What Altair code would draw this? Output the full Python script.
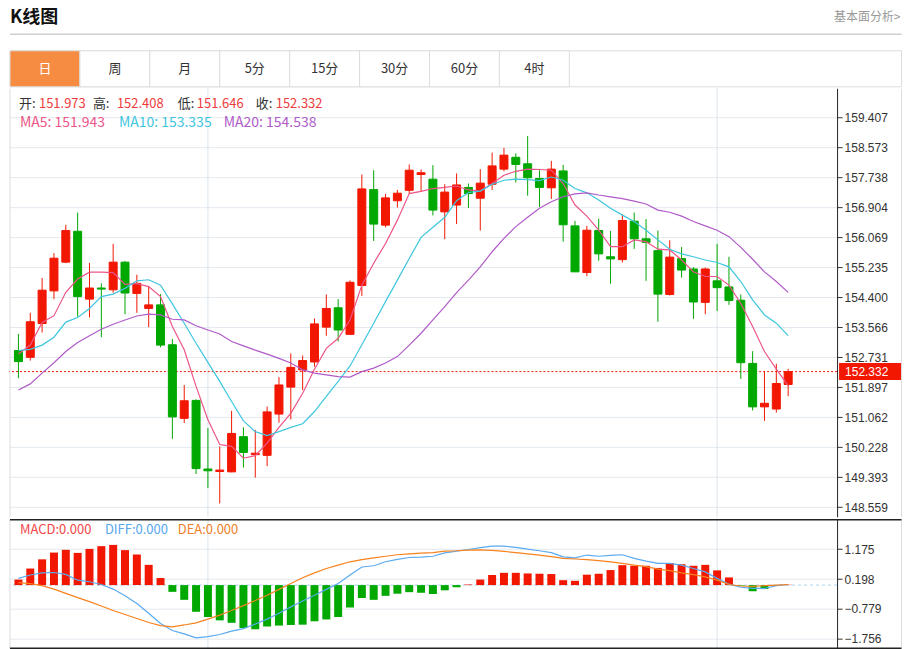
import altair as alt
import pandas as pd

# ---------------- data ----------------
opens = [152.92, 152.73, 153.67, 154.58, 155.38, 156.24, 154.35, 154.66, 154.61, 155.38,
         154.51, 154.09, 154.19, 153.08, 151.03, 151.53, 149.62, 149.55, 149.54, 150.52,
         150.02, 150.00, 151.15, 151.90, 152.38, 152.60, 153.57, 154.11, 153.37, 154.73,
         157.40, 156.41, 157.09, 157.38, 157.82, 157.69, 156.78, 156.97, 157.46, 157.16,
         157.55, 157.97, 158.30, 158.12, 157.71, 157.45, 157.92, 156.39, 155.09, 156.26,
         155.53, 155.45, 156.52, 156.03, 155.70, 154.48, 155.48, 155.19, 154.26, 154.86,
         154.69, 154.32, 152.56, 151.35, 151.29, 151.973]
highs = [153.38, 153.97, 154.94, 155.63, 156.42, 156.76, 155.36, 154.79, 155.89, 155.41,
         155.03, 154.70, 154.49, 153.24, 151.96, 151.56, 150.76, 150.25, 151.24, 150.78,
         150.71, 151.36, 152.18, 152.84, 152.78, 153.81, 154.48, 154.35, 154.87, 157.82,
         157.94, 157.28, 157.39, 158.10, 157.96, 158.08, 157.55, 157.85, 157.57, 157.97,
         158.43, 158.56, 158.41, 158.89, 157.94, 158.20, 158.09, 156.53, 156.39, 156.59,
         156.25, 156.71, 156.76, 156.58, 156.26, 155.99, 155.80, 155.24, 155.23, 155.89,
         155.53, 154.48, 152.90, 152.35, 152.55, 152.408]
lows = [152.15, 152.64, 153.42, 154.35, 155.35, 153.86, 153.84, 153.29, 154.53, 153.93,
        153.97, 153.57, 153.01, 150.46, 150.90, 149.48, 149.09, 148.66, 149.53, 149.66,
        149.38, 149.70, 150.91, 151.00, 151.82, 152.47, 153.33, 153.17, 153.35, 154.44,
        155.97, 156.35, 156.90, 157.29, 157.36, 156.68, 156.02, 156.44, 156.89, 156.26,
        157.39, 157.91, 157.60, 157.23, 156.92, 157.14, 155.95, 155.11, 154.99, 155.42,
        154.78, 155.37, 155.75, 154.86, 153.72, 154.45, 154.95, 153.80, 153.93, 154.02,
        154.19, 152.13, 151.25, 150.96, 151.19, 151.646]
closes = [152.61, 153.72, 154.60, 155.49, 156.26, 154.42, 154.66, 154.63, 155.38, 154.52,
          154.79, 154.19, 153.07, 151.07, 151.52, 149.63, 149.57, 149.59, 150.61, 150.08,
          150.06, 151.21, 151.96, 152.45, 152.64, 153.66, 154.09, 153.49, 154.82, 157.42,
          156.44, 157.17, 157.30, 157.94, 157.87, 156.83, 157.33, 157.53, 157.29, 157.58,
          158.06, 158.36, 158.10, 157.73, 157.46, 157.97, 156.42, 155.11, 156.27, 155.61,
          155.47, 156.54, 156.03, 155.93, 154.49, 155.52, 155.16, 154.27, 155.19, 154.67,
          154.31, 152.58, 151.35, 151.45, 152.00, 152.332]
ma5 = [152.82, 153.07, 153.70, 153.89, 154.54, 154.91, 155.10, 155.10, 155.09, 154.76,
       154.78, 154.70, 154.42, 153.59, 152.94, 151.92, 150.99, 150.30, 150.25, 149.92,
       149.99, 150.34, 150.78, 151.17, 151.73, 152.40, 152.98, 153.26, 153.77, 154.74,
       155.35, 155.90, 156.55, 157.29, 157.35, 157.43, 157.46, 157.50, 157.39, 157.36,
       157.57, 157.80, 157.91, 157.97, 157.96, 157.94, 157.57, 156.97, 156.66, 156.27,
       155.81, 155.81, 156.00, 155.95, 155.74, 155.72, 155.44, 155.11, 154.98, 154.98,
       154.74, 154.23, 153.59, 152.89, 152.40, 151.943]
ma10 = [152.92, 152.95, 153.07, 153.29, 153.71, 153.84, 154.09, 154.42, 154.49, 154.65,
        154.86, 154.89, 154.74, 154.22, 153.68, 153.12, 152.59, 152.06, 151.50, 150.96,
        150.66, 150.55, 150.66, 150.78, 150.88, 151.22, 151.64, 152.06, 152.49, 153.08,
        153.68, 154.28, 154.88, 155.48, 156.07, 156.35, 156.63, 157.09, 157.32, 157.36,
        157.55, 157.66, 157.69, 157.68, 157.65, 157.75, 157.66, 157.43, 157.31, 157.11,
        156.88, 156.69, 156.51, 156.27, 156.00, 155.74, 155.61, 155.53, 155.44, 155.37,
        155.25, 154.84, 154.33, 153.91, 153.68, 153.335]
ma20 = [151.82, 151.99, 152.29, 152.58, 152.89, 153.14, 153.33, 153.51, 153.65, 153.77,
        153.88, 153.93, 153.91, 153.79, 153.77, 153.61, 153.49, 153.38, 153.17, 153.05,
        152.93, 152.82, 152.70, 152.57, 152.38, 152.29, 152.24, 152.19, 152.18, 152.33,
        152.43, 152.57, 152.75, 153.07, 153.40, 153.77, 154.14, 154.53, 154.88, 155.25,
        155.67, 156.04, 156.37, 156.63, 156.88, 157.06, 157.20, 157.28, 157.31, 157.25,
        157.20, 157.15, 157.08, 157.00, 156.83, 156.77, 156.66, 156.51, 156.39, 156.27,
        156.09, 155.79, 155.46, 155.11, 154.84, 154.538]
macd_hist = [0.18, 0.54, 0.84, 1.06, 1.15, 1.05, 1.18, 1.27, 1.31, 1.14,
             1.00, 0.66, 0.23, -0.22, -0.48, -0.87, -1.04, -1.15, -1.23, -1.40,
             -1.44, -1.35, -1.32, -1.30, -1.29, -1.18, -1.12, -1.04, -0.73, -0.42,
             -0.48, -0.35, -0.28, -0.23, -0.25, -0.29, -0.17, -0.07, 0.02, 0.18,
             0.33, 0.40, 0.40, 0.38, 0.37, 0.36, 0.16, 0.14, 0.34, 0.37,
             0.49, 0.65, 0.63, 0.63, 0.56, 0.72, 0.68, 0.63, 0.66, 0.48,
             0.25, -0.02, -0.20, -0.13, -0.03, 0.01]
diff_line = [0.22, 0.33, 0.40, 0.41, 0.35, 0.16, 0.11, 0.02, -0.13, -0.35,
             -0.60, -0.92, -1.25, -1.48, -1.59, -1.72, -1.68, -1.61, -1.50, -1.42,
             -1.27, -1.11, -0.92, -0.71, -0.52, -0.33, -0.14, 0.05, 0.33, 0.59,
             0.63, 0.76, 0.84, 0.90, 0.91, 0.94, 1.05, 1.11, 1.16, 1.22,
             1.27, 1.27, 1.23, 1.17, 1.12, 1.06, 0.92, 0.89, 0.98, 0.94,
             0.97, 0.99, 0.87, 0.78, 0.71, 0.71, 0.65, 0.54, 0.43, 0.22,
             0.03, -0.07, -0.11, -0.11, -0.02, 0.02]
dea_line = [0.08, 0.05, -0.02, -0.13, -0.27, -0.41, -0.54, -0.68, -0.83, -0.96,
            -1.09, -1.22, -1.32, -1.36, -1.30, -1.23, -1.11, -0.98, -0.83, -0.67,
            -0.50, -0.33, -0.14, 0.05, 0.24, 0.40, 0.54, 0.65, 0.76, 0.83,
            0.89, 0.94, 0.99, 1.02, 1.04, 1.06, 1.11, 1.12, 1.14, 1.15,
            1.13, 1.10, 1.06, 1.02, 0.98, 0.93, 0.87, 0.85, 0.83, 0.80,
            0.76, 0.71, 0.65, 0.60, 0.52, 0.47, 0.40, 0.34, 0.27, 0.16,
            0.02, -0.03, -0.04, -0.02, 0.00, 0.02]

price_ticks = [159.407, 158.573, 157.738, 156.904, 156.069, 155.235, 154.400,
               153.566, 152.731, 151.897, 151.062, 150.228, 149.393, 148.559]
macd_ticks = [1.175, 0.198, -0.779, -1.756]
month_start_idx = [16, 59]

tab_labels = ["日", "周", "月", "5分", "15分", "30分", "60分", "4时"]
selected_tab = "日"
header_title = "K线图"
header_link = "基本面分析>"
ohlc_labels = ["开:", "高:", "低:", "收:"]
ohlc_values = ["151.973", "152.408", "151.646", "152.332"]
ma_labels = ["MA5: 151.943", "MA10: 153.335", "MA20: 154.538"]
macd_labels = ["MACD:0.000", "DIFF:0.000", "DEA:0.000"]
last_price = closes[-1]

# ---------------- styling / layout ----------------
RED = "#F21700"
GREEN = "#00A800"
ORANGE_TAB = "#F58C42"
MA_COLORS = ["#EC5588", "#3EC6DE", "#B05BC8"]
MACD_TXT_COLORS = ["#F04848", "#58A8EE", "#F07F2A"]
DIFF_COLOR = "#5AAAF0"
DEA_COLOR = "#F7821E"
GRID = "#E3E9EF"
VGRID = "#DAE5EE"
BORDER = "#DDDDDD"
DARK = "#222222"
FONT_CJK = "Noto Sans CJK SC"
FONT_AX = "Liberation Sans"

W_FULL = 894
RIGHT = 893.5
W_PLOT = 829
H_HEAD = 78
H_MAIN = 429
H_MACD = 130
TAB_TOP = 42.5
TAB_BOTTOM = 78.5

df = pd.DataFrame({
    "i": list(range(len(opens))), "open": opens, "high": highs, "low": lows,
    "close": closes, "ma5": ma5, "ma10": ma10, "ma20": ma20,
    "macd": macd_hist, "diff": diff_line, "dea": dea_line,
})
df["dir"] = ["up" if c >= o else "down" for o, c in zip(opens, closes)]
df["mdir"] = ["up" if m >= 0 else "down" for m in macd_hist]

dir_scale = alt.Scale(domain=["up", "down"], range=[RED, GREEN])
x_sc = alt.Scale(domain=[-0.375, 68.708333], nice=False, zero=False)
price_sc = alt.Scale(domain=[148.289, 160.222], nice=False, zero=False)
macd_sc = alt.Scale(domain=[-2.072, 2.162], nice=False, zero=False)


def X(field="i"):
    return alt.X(f"{field}:Q", scale=x_sc, axis=None)


def make_axis(values):
    return alt.Axis(orient="right", values=values, format=".3f", grid=True,
                    gridColor=GRID, gridWidth=1, ticks=True, tickColor="#333333",
                    tickSize=5, domain=True, domainColor=DARK, domainWidth=1,
                    labelColor="#333333", labelFont=FONT_AX, labelFontSize=12,
                    labelPadding=2, labelOverlap=False, labelFlush=False, title=None)


price_axis = make_axis(price_ticks)
macd_axis = make_axis(macd_ticks)


def YP(field):
    return alt.Y(f"{field}:Q", scale=price_sc, axis=price_axis)


def YM(field):
    return alt.Y(f"{field}:Q", scale=macd_sc, axis=macd_axis)


def text_layer(s, x, y, color, size=13, align="left", weight="normal", font=FONT_CJK):
    return alt.Chart(pd.DataFrame({"t": [s]})).mark_text(
        align=align, baseline="middle", color=color, fontSize=size,
        font=font, fontWeight=weight
    ).encode(text="t:N", x=alt.value(x), y=alt.value(y))


def vline(x, h, color=BORDER, width=1):
    return alt.Chart(pd.DataFrame({"a": [0]})).mark_rule(color=color, strokeWidth=width).encode(
        x=alt.value(x), y=alt.value(0.5), y2=alt.value(h))


def hline(y, x1, x2, color, width=1):
    return alt.Chart(pd.DataFrame({"a": [0]})).mark_rule(color=color, strokeWidth=width).encode(
        x=alt.value(x1), x2=alt.value(x2), y=alt.value(y))


# ---------------- header (title + tabs) ----------------
tab_df = pd.DataFrame({"tab": tab_labels,
                       "sel": ["yes" if t == selected_tab else "no" for t in tab_labels]})
tab_sc = alt.Scale(domain=tab_labels, range=[1, 561], paddingInner=0, paddingOuter=0)

tab_bar = alt.Chart(pd.DataFrame({"a": [0]})).mark_rect(fill="#FFFFFF", stroke=BORDER, strokeWidth=1).encode(
    x=alt.value(1), x2=alt.value(RIGHT), y=alt.value(TAB_TOP), y2=alt.value(TAB_BOTTOM))
tab_rects = alt.Chart(tab_df).mark_rect(stroke=BORDER, strokeWidth=1).encode(
    x=alt.X("tab:N", scale=tab_sc, axis=None),
    y=alt.value(TAB_TOP), y2=alt.value(TAB_BOTTOM),
    fill=alt.Fill("sel:N", scale=alt.Scale(domain=["yes", "no"], range=[ORANGE_TAB, "#FFFFFF"]), legend=None))
tab_mid = (TAB_TOP + TAB_BOTTOM) / 2
tab_text_sel = alt.Chart(tab_df).transform_filter(alt.datum.sel == "yes").mark_text(
    fontSize=13, font=FONT_CJK, baseline="middle", align="center", color="#FFFFFF").encode(
    x=alt.X("tab:N", scale=tab_sc, axis=None), y=alt.value(tab_mid), text="tab:N")
tab_text_other = alt.Chart(tab_df).transform_filter(alt.datum.sel == "no").mark_text(
    fontSize=13, font=FONT_CJK, baseline="middle", align="center", color="#333333").encode(
    x=alt.X("tab:N", scale=tab_sc, axis=None), y=alt.value(tab_mid), text="tab:N")

header = alt.layer(
    text_layer(header_title, 1, 10, "#111111", size=18, weight="bold"),
    text_layer(header_link, RIGHT - 1, 9, "#999999", size=12, align="right"),
    hline(26, 1, RIGHT, "#CFCFCF", 1.5),
    tab_bar, tab_rects, tab_text_sel, tab_text_other,
).properties(width=W_FULL, height=H_HEAD)

# ---------------- main price panel ----------------
base = alt.Chart(df)
month_rules = alt.Chart(pd.DataFrame({"i": month_start_idx})).mark_rule(color=VGRID, strokeWidth=1).encode(x=X())
last_df = pd.DataFrame({"p": [last_price]})
last_rule = alt.Chart(last_df).mark_rule(color=RED, strokeDash=[2, 2], strokeWidth=1).encode(y=YP("p"))
wicks = base.mark_rule(strokeWidth=1).encode(
    x=X(), y=YP("low"), y2="high:Q",
    color=alt.Color("dir:N", scale=dir_scale, legend=None))
bodies = base.mark_bar(size=8, strokeWidth=1).encode(
    x=X(), y=YP("open"), y2="close:Q",
    color=alt.Color("dir:N", scale=dir_scale, legend=None),
    stroke=alt.Stroke("dir:N", scale=dir_scale, legend=None))
ma_layers = [base.mark_line(color=c, strokeWidth=1.2).encode(x=X(), y=YP(f))
             for f, c in zip(["ma5", "ma10", "ma20"], MA_COLORS)]
price_tag = alt.Chart(last_df).mark_tick(color=RED, thickness=17, size=63, orient="horizontal", opacity=1).encode(
    y=YP("p"), x=alt.value(862.5))
price_tag_text = alt.Chart(last_df).mark_text(color="#FFFFFF", fontSize=12, font=FONT_AX, align="left", baseline="middle").encode(
    y=YP("p"), x=alt.value(837), text=alt.Text("p:Q", format=".3f"))

label_x = [10, 84, 169, 247]
value_x = [30, 108, 188, 267]
ma_x = [11, 110, 215]
legend_layers = []
for lab, val, lx, vx in zip(ohlc_labels, ohlc_values, label_x, value_x):
    legend_layers.append(text_layer(lab, lx, 16, "#333333"))
    legend_layers.append(text_layer(val, vx, 16, "#EE3B3B"))
for lab, mx, c in zip(ma_labels, ma_x, MA_COLORS):
    legend_layers.append(text_layer(lab, mx, 35, c, size=14))

main = alt.layer(
    month_rules, last_rule, wicks, bodies, *ma_layers,
    price_tag, price_tag_text, *legend_layers,
    vline(1, H_MAIN), vline(RIGHT, H_MAIN),
).properties(width=W_PLOT, height=H_MAIN)

# ---------------- MACD panel ----------------
zero_rule = alt.Chart(pd.DataFrame({"z": [0.0]})).mark_rule(color="#A8D5EE", strokeDash=[3, 3], strokeWidth=1).encode(y=YM("z"))
macd_bars = base.mark_bar(size=8).encode(
    x=X(), y=YM("macd"), y2=alt.datum(0),
    color=alt.Color("mdir:N", scale=dir_scale, legend=None))
diff_l = base.mark_line(color=DIFF_COLOR, strokeWidth=1.2).encode(x=X(), y=YM("diff"))
dea_l = base.mark_line(color=DEA_COLOR, strokeWidth=1.2).encode(x=X(), y=YM("dea"))
macd_month = alt.Chart(pd.DataFrame({"i": month_start_idx})).mark_rule(color=VGRID, strokeWidth=1).encode(x=X())
macd_x = [11, 96, 169]
macd_legend = [text_layer(lab, mx, 11, c) for lab, mx, c in zip(macd_labels, macd_x, MACD_TXT_COLORS)]

macd = alt.layer(
    macd_month, zero_rule, macd_bars, diff_l, dea_l, *macd_legend,
    vline(1, H_MACD), vline(RIGHT, H_MACD),
    hline(1, 1, RIGHT, DARK, 1.5), hline(129.5, 1, RIGHT, DARK, 1.5),
).properties(width=W_PLOT, height=H_MACD)

chart = alt.vconcat(header, main, macd, spacing=0).resolve_scale(
    color="independent", fill="independent", stroke="independent"
).properties(
    padding=0, background="#FFFFFF"
).configure_view(stroke=None).configure_concat(spacing=0)

chart.save("out.html", embed_options={"renderer": "svg", "actions": False})
